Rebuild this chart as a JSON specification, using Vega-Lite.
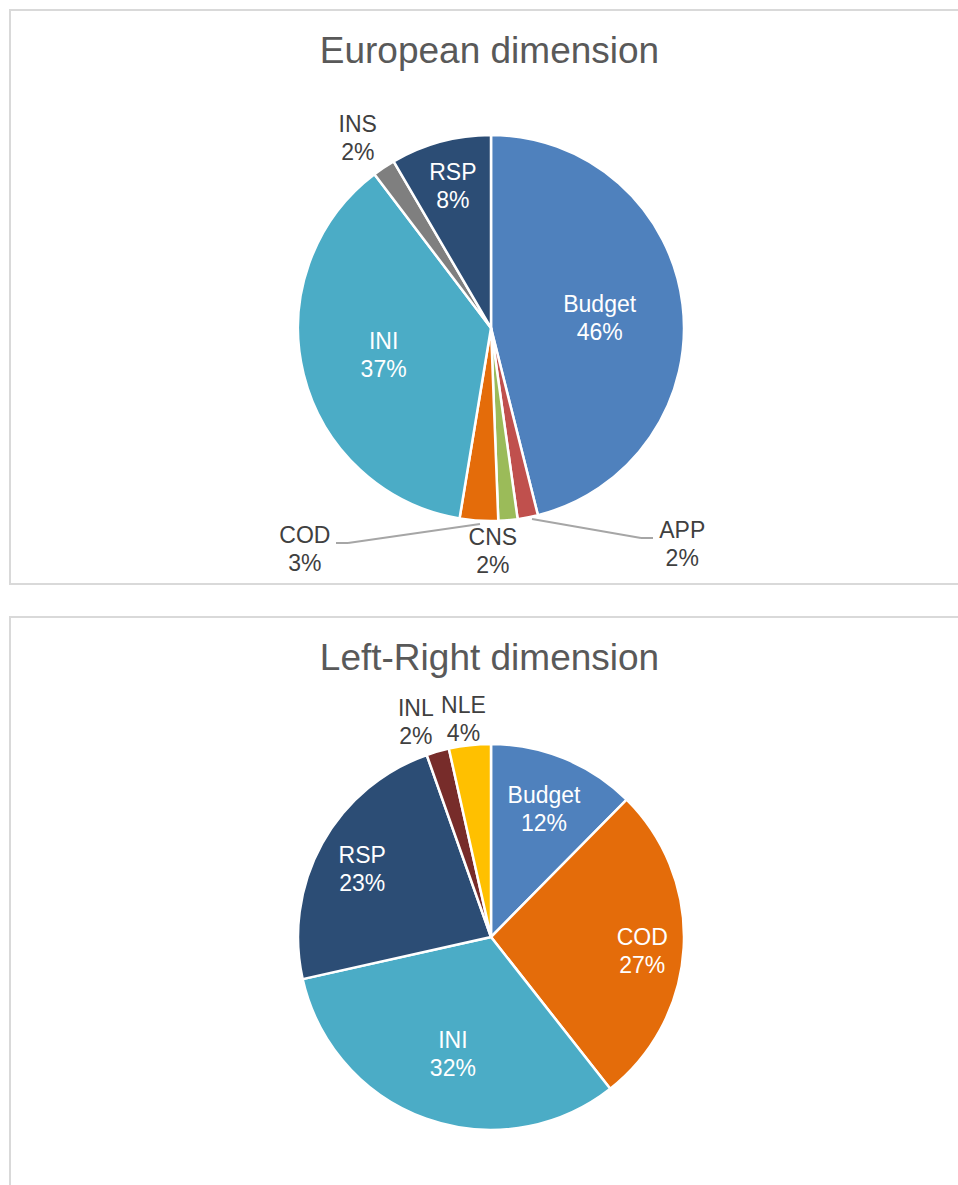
{
  "$schema": "https://vega.github.io/schema/vega-lite/v6.json",
  "padding": {"left": 9, "top": 9, "right": 0, "bottom": 0},
  "background": "white",
  "spacing": 26,
  "config": {
    "font": "Liberation Sans",
    "view": {"stroke": "#d9d9d9", "strokeWidth": 2}
  },
  "datasets": {
    "eu": [
      {"cat": "Budget", "share": 46.0, "ord": 1, "label": "Budget\n46%"},
      {"cat": "APP", "share": 1.7, "ord": 2, "label": "APP\n2%"},
      {"cat": "CNS", "share": 1.6, "ord": 3, "label": "CNS\n2%"},
      {"cat": "COD", "share": 3.2, "ord": 4, "label": "COD\n3%"},
      {"cat": "INI", "share": 37.0, "ord": 5, "label": "INI\n37%"},
      {"cat": "INS", "share": 1.9, "ord": 6, "label": "INS\n2%"},
      {"cat": "RSP", "share": 8.4, "ord": 7, "label": "RSP\n8%"}
    ],
    "lr": [
      {"cat": "Budget", "share": 12.4, "ord": 1, "label": "Budget\n12%"},
      {"cat": "COD", "share": 27.0, "ord": 2, "label": "COD\n27%"},
      {"cat": "INI", "share": 32.1, "ord": 3, "label": "INI\n32%"},
      {"cat": "RSP", "share": 23.1, "ord": 4, "label": "RSP\n23%"},
      {"cat": "INL", "share": 1.9, "ord": 5, "label": "INL\n2%"},
      {"cat": "NLE", "share": 3.5, "ord": 6, "label": "NLE\n4%"}
    ]
  },
  "vconcat": [
    {
      "width": 949,
      "height": 574,
      "view": {"stroke": "#d9d9d9", "strokeWidth": 2, "strokeDash": [949, 574, 1523]},
      "title": {"text": "European dimension", "fontSize": 37, "fontWeight": "normal", "color": "#595959", "font": "Liberation Sans", "offset": -90, "baseline": "alphabetic", "anchor": "middle", "frame": "group", "dx": 5},
      "data": {"name": "eu"},
      "layer": [
        {
          "mark": {"type": "arc", "outerRadius": 193, "stroke": "white", "strokeWidth": 2.5, "x": 481, "y": 318},
          "encoding": {
            "theta": {"field": "share", "type": "quantitative", "stack": true},
            "order": {"field": "ord", "type": "quantitative"},
            "color": {"field": "cat", "type": "nominal", "legend": null,
              "scale": {"domain": ["Budget","APP","CNS","COD","INI","INS","RSP","INL","NLE"],
                        "range": ["#4F81BD","#C0504D","#9BBB59","#E46C0A","#4BACC6","#7F7F7F","#2C4D75","#772C2A","#FFC000"]}}
          }
        },
        {
          "encoding": {
            "theta": {"field": "share", "type": "quantitative", "stack": true},
            "order": {"field": "ord", "type": "quantitative"},
            "detail": {"field": "cat", "type": "nominal"}
          },
          "layer": [
            {"mark": {"type": "text", "radius": 109, "thetaOffset": 0.044, "dy": -14, "fontSize": 23, "lineHeight": 28, "lineBreak": "\n", "align": "center", "baseline": "middle", "color": "white", "x": 481, "y": 318},
             "encoding": {"text": {"condition": {"test": "datum.cat === 'Budget'", "field": "label"}, "value": ""}}},
            {"mark": {"type": "text", "radius": 111, "thetaOffset": -0.014, "dy": -14, "fontSize": 23, "lineHeight": 28, "lineBreak": "\n", "align": "center", "baseline": "middle", "color": "white", "x": 481, "y": 318},
             "encoding": {"text": {"condition": {"test": "datum.cat === 'INI'", "field": "label"}, "value": ""}}},
            {"mark": {"type": "text", "radius": 146, "dy": -14, "fontSize": 23, "lineHeight": 28, "lineBreak": "\n", "align": "center", "baseline": "middle", "color": "white", "x": 481, "y": 318},
             "encoding": {"text": {"condition": {"test": "datum.cat === 'RSP'", "field": "label"}, "value": ""}}},
            {"mark": {"type": "text", "radius": 231, "thetaOffset": -0.026, "dy": -14, "fontSize": 23, "lineHeight": 28, "lineBreak": "\n", "align": "center", "baseline": "middle", "color": "#404040", "x": 481, "y": 318},
             "encoding": {"text": {"condition": {"test": "datum.cat === 'INS'", "field": "label"}, "value": ""}}},
            {"mark": {"type": "text", "radius": 224, "thetaOffset": 0.08, "dy": -14, "fontSize": 23, "lineHeight": 28, "lineBreak": "\n", "align": "center", "baseline": "middle", "color": "#404040", "x": 481, "y": 318},
             "encoding": {"text": {"condition": {"test": "datum.cat === 'CNS'", "field": "label"}, "value": ""}}},
            {"mark": {"type": "text", "radius": 290, "thetaOffset": 0.634, "dy": -14, "fontSize": 23, "lineHeight": 28, "lineBreak": "\n", "align": "center", "baseline": "middle", "color": "#404040", "x": 481, "y": 318},
             "encoding": {"text": {"condition": {"test": "datum.cat === 'COD'", "field": "label"}, "value": ""}}},
            {"mark": {"type": "text", "radius": 289, "thetaOffset": -0.531, "dy": -14, "fontSize": 23, "lineHeight": 28, "lineBreak": "\n", "align": "center", "baseline": "middle", "color": "#404040", "x": 481, "y": 318},
             "encoding": {"text": {"condition": {"test": "datum.cat === 'APP'", "field": "label"}, "value": ""}}}
          ]
        },
        {
          "transform": [{"filter": "datum.cat === 'COD'"}],
          "mark": {"type": "rule", "color": "#a6a6a6", "strokeWidth": 2},
          "encoding": {
            "x": {"datum": -0.0573, "type": "quantitative", "scale": {"domain": [-2.50521, 2.4375], "nice": false, "zero": false}, "axis": null},
            "y": {"datum": -1.0208, "type": "quantitative", "scale": {"domain": [-1.33333, 1.65625], "nice": false, "zero": false}, "axis": null},
            "x2": {"datum": -0.7448},
            "y2": {"datum": -1.1198}
          }
        },
        {
          "transform": [{"filter": "datum.cat === 'COD'"}],
          "mark": {"type": "rule", "color": "#a6a6a6", "strokeWidth": 2},
          "encoding": {
            "x": {"datum": -0.7448, "type": "quantitative", "scale": {"domain": [-2.50521, 2.4375], "nice": false, "zero": false}, "axis": null},
            "y": {"datum": -1.1198, "type": "quantitative", "scale": {"domain": [-1.33333, 1.65625], "nice": false, "zero": false}, "axis": null},
            "x2": {"datum": -0.8073},
            "y2": {"datum": -1.1198}
          }
        },
        {
          "transform": [{"filter": "datum.cat === 'APP'"}],
          "mark": {"type": "rule", "color": "#a6a6a6", "strokeWidth": 2},
          "encoding": {
            "x": {"datum": 0.2135, "type": "quantitative", "scale": {"domain": [-2.50521, 2.4375], "nice": false, "zero": false}, "axis": null},
            "y": {"datum": -0.9948, "type": "quantitative", "scale": {"domain": [-1.33333, 1.65625], "nice": false, "zero": false}, "axis": null},
            "x2": {"datum": 0.78125},
            "y2": {"datum": -1.09375}
          }
        },
        {
          "transform": [{"filter": "datum.cat === 'APP'"}],
          "mark": {"type": "rule", "color": "#a6a6a6", "strokeWidth": 2},
          "encoding": {
            "x": {"datum": 0.78125, "type": "quantitative", "scale": {"domain": [-2.50521, 2.4375], "nice": false, "zero": false}, "axis": null},
            "y": {"datum": -1.09375, "type": "quantitative", "scale": {"domain": [-1.33333, 1.65625], "nice": false, "zero": false}, "axis": null},
            "x2": {"datum": 0.84375},
            "y2": {"datum": -1.09375}
          }
        }
      ]
    },
    {
      "width": 949,
      "height": 568,
      "view": {"stroke": "#d9d9d9", "strokeWidth": 2, "strokeDash": [949, 1517, 568]},
      "title": {"text": "Left-Right dimension", "fontSize": 37, "fontWeight": "normal", "color": "#595959", "font": "Liberation Sans", "offset": -90, "baseline": "alphabetic", "anchor": "middle", "frame": "group", "dx": 5},
      "data": {"name": "lr"},
      "layer": [
        {
          "mark": {"type": "arc", "outerRadius": 193, "stroke": "white", "strokeWidth": 2.5, "x": 481, "y": 320},
          "encoding": {
            "theta": {"field": "share", "type": "quantitative", "stack": true},
            "order": {"field": "ord", "type": "quantitative"},
            "color": {"field": "cat", "type": "nominal", "legend": null,
              "scale": {"domain": ["Budget","APP","CNS","COD","INI","INS","RSP","INL","NLE"],
                        "range": ["#4F81BD","#C0504D","#9BBB59","#E46C0A","#4BACC6","#7F7F7F","#2C4D75","#772C2A","#FFC000"]}}
          }
        },
        {
          "encoding": {
            "theta": {"field": "share", "type": "quantitative", "stack": true},
            "order": {"field": "ord", "type": "quantitative"},
            "detail": {"field": "cat", "type": "nominal"}
          },
          "layer": [
            {"mark": {"type": "text", "radius": 138, "thetaOffset": 0.005, "dy": -14, "fontSize": 23, "lineHeight": 28, "lineBreak": "\n", "align": "center", "baseline": "middle", "color": "white", "x": 481, "y": 320},
             "encoding": {"text": {"condition": {"test": "datum.cat === 'Budget'", "field": "label"}, "value": ""}}},
            {"mark": {"type": "text", "radius": 152, "thetaOffset": 0.044, "dy": -14, "fontSize": 23, "lineHeight": 28, "lineBreak": "\n", "align": "center", "baseline": "middle", "color": "white", "x": 481, "y": 320},
             "encoding": {"text": {"condition": {"test": "datum.cat === 'COD'", "field": "label"}, "value": ""}}},
            {"mark": {"type": "text", "radius": 124, "thetaOffset": -0.03, "dy": -14, "fontSize": 23, "lineHeight": 28, "lineBreak": "\n", "align": "center", "baseline": "middle", "color": "white", "x": 481, "y": 320},
             "encoding": {"text": {"condition": {"test": "datum.cat === 'INI'", "field": "label"}, "value": ""}}},
            {"mark": {"type": "text", "radius": 145, "thetaOffset": -0.028, "dy": -14, "fontSize": 23, "lineHeight": 28, "lineBreak": "\n", "align": "center", "baseline": "middle", "color": "white", "x": 481, "y": 320},
             "encoding": {"text": {"condition": {"test": "datum.cat === 'RSP'", "field": "label"}, "value": ""}}},
            {"mark": {"type": "text", "radius": 227, "thetaOffset": -0.058, "dy": -14, "fontSize": 23, "lineHeight": 28, "lineBreak": "\n", "align": "center", "baseline": "middle", "color": "#404040", "x": 481, "y": 320},
             "encoding": {"text": {"condition": {"test": "datum.cat === 'INL'", "field": "label"}, "value": ""}}},
            {"mark": {"type": "text", "radius": 219, "thetaOffset": -0.016, "dy": -14, "fontSize": 23, "lineHeight": 28, "lineBreak": "\n", "align": "center", "baseline": "middle", "color": "#404040", "x": 481, "y": 320},
             "encoding": {"text": {"condition": {"test": "datum.cat === 'NLE'", "field": "label"}, "value": ""}}}
          ]
        }
      ]
    }
  ]
}
